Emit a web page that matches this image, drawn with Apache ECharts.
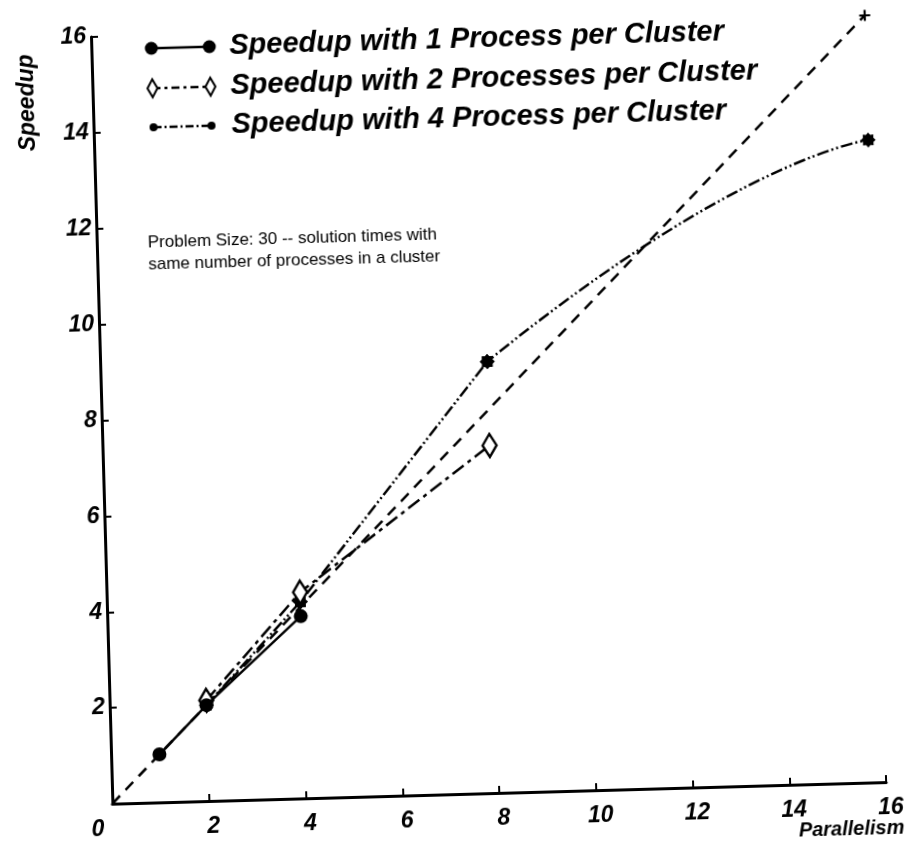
<!DOCTYPE html>
<html>
<head>
<meta charset="utf-8">
<script src="https://cdn.jsdelivr.net/npm/echarts@6/dist/echarts.min.js"></script>
<style>
  html, body { margin: 0; padding: 0; background: #fff; overflow: hidden; }
  #chart { width: 909px; height: 851px; transform: rotate(-1.6deg); transform-origin: 50% 50%; }
</style>
</head>
<body>
<div id="chart"></div>
<script>
// Speedup vs. parallelism for different numbers of processes per cluster
const seriesNames = [
  'Speedup with 1 Process per Cluster',
  'Speedup with 2 Processes per Cluster',
  'Speedup with 4 Process per Cluster'
];
const oneProcX = [1, 2, 4];
const oneProcY = [1, 2, 3.8];
const twoProcX = [2, 4, 8];
const twoProcY = [2.1, 4.3, 7.25];
const fourProcX = [2, 4, 8, 16];
const fourProcY = [2, 4.1, 9, 13.4];
const idealX = [0, 16];
const idealY = [0, 16];
const xTicks = [0, 2, 4, 6, 8, 10, 12, 14, 16];
const yTicks = [0, 2, 4, 6, 8, 10, 12, 14, 16];
const noteLines = [
  'Problem Size: 30 -- solution times with',
  'same number of processes in a cluster'
];

const FONT = '"Liberation Sans", Arial, Helvetica, sans-serif';
const INK = '#000';
const CLEAR = 'rgba(0,0,0,0)';

const pairs = (xs, ys) => xs.map((x, i) => [x, ys[i]]);

// the 4-process curve is straight up to x = 8 and bends smoothly beyond it
const BEND_AT = 8;
const fourPts = pairs(fourProcX, fourProcY);
const bendIdx = fourProcX.indexOf(BEND_AT);
const fourStraight = fourPts.slice(0, bendIdx + 1);
const fourCurve = fourPts.slice(bendIdx - 1);
// share of the curved copy (along x) that lies before the bend and stays hidden
const hiddenShare = (BEND_AT - fourCurve[0][0]) / (fourCurve[fourCurve.length - 1][0] - fourCurve[0][0]);
const curveStroke = new echarts.graphic.LinearGradient(0, 0, 1, 0, [
  { offset: 0, color: CLEAR },
  { offset: hiddenShare, color: CLEAR },
  { offset: hiddenShare, color: INK },
  { offset: 1, color: INK }
]);

// small spiky blob used for the 4-process markers
function starPath(points, rOut, rIn) {
  let d = '';
  for (let i = 0; i < points * 2; i++) {
    const r = i % 2 === 0 ? rOut : rIn;
    const a = Math.PI * i / points;
    const x = (r * Math.cos(a)).toFixed(2), y = (r * Math.sin(a)).toFixed(2);
    d += (i === 0 ? 'M' : 'L') + x + ' ' + y + ' ';
  }
  return 'path://' + d + 'Z';
}
const STAR = starPath(8, 10, 7.5);
const PLUS = 'path://M4 0 L6 0 L6 4 L10 4 L10 6 L6 6 L6 10 L4 10 L4 6 L0 6 L0 4 L4 4 Z';

const dashIdeal = [11, 8];
const dashTwo = [14, 5, 4, 5];
const dashFour = [12, 3, 2, 3, 2, 3];

const tickLabelStyle = {
  color: INK, fontFamily: FONT, fontSize: 23, fontWeight: 'bold', fontStyle: 'italic'
};

// legend drawn as marker–line–marker samples followed by the series name
function legendRow(y, kind, name) {
  const x1 = 162, x2 = 220;
  const children = [];
  const lineStyle = { stroke: INK, lineWidth: 2.5 };
  if (kind === 2) lineStyle.lineDash = [8, 4, 3, 4];
  if (kind === 3) lineStyle.lineDash = [8, 3, 2, 3];
  children.push({ type: 'line', shape: { x1: x1, y1: y, x2: x2, y2: y }, style: lineStyle });
  [x1, x2].forEach(function (cx) {
    if (kind === 1) {
      children.push({ type: 'circle', shape: { cx: cx, cy: y, r: 6.5 }, style: { fill: INK } });
    } else if (kind === 2) {
      children.push({ type: 'polygon', shape: { points: [[cx, y - 9], [cx + 5, y], [cx, y + 9], [cx - 5, y]] },
        style: { fill: '#fff', stroke: INK, lineWidth: 2 } });
    } else {
      children.push({ type: 'circle', shape: { cx: cx, cy: y, r: 4 }, style: { fill: INK } });
    }
  });
  children.push({ type: 'text', x: 240, y: y, style: {
    text: name, fill: INK, font: 'italic bold 29px ' + FONT, verticalAlign: 'middle', align: 'left'
  } });
  return { type: 'group', children: children };
}

const chart = echarts.init(document.getElementById('chart'), null, { renderer: 'canvas' });

chart.setOption({
  backgroundColor: '#fff',
  animation: false,
  grid: { left: 102, right: 33, top: 27, bottom: 57, containLabel: false },
  xAxis: {
    type: 'value', min: xTicks[0], max: xTicks[xTicks.length - 1], interval: 2,
    axisLine: { lineStyle: { color: INK, width: 3 } },
    axisTick: { inside: true, length: 7, lineStyle: { color: INK, width: 2 } },
    axisLabel: Object.assign({
      margin: 14,
      padding: [0, 0, 0, 8],
      formatter: function (v) { return v === 0 ? '{z|0}' : String(v); },
      rich: { z: Object.assign({ padding: [0, 38, 0, 0] }, tickLabelStyle) }
    }, tickLabelStyle),
    splitLine: { show: false }
  },
  yAxis: {
    type: 'value', min: yTicks[0], max: yTicks[yTicks.length - 1], interval: 2,
    axisLine: { lineStyle: { color: INK, width: 3 } },
    axisTick: { inside: true, length: 7, lineStyle: { color: INK, width: 2 } },
    axisLabel: Object.assign({ margin: 5, showMinLabel: false }, tickLabelStyle),
    splitLine: { show: false }
  },
  graphic: [
    legendRow(40, 1, seriesNames[0]),
    legendRow(80, 2, seriesNames[1]),
    legendRow(119, 3, seriesNames[2]),
    { type: 'text', x: 153, y: 234, style: { text: noteLines[0], fill: INK,
      font: '17px ' + FONT, verticalAlign: 'middle' } },
    { type: 'text', x: 153, y: 256, style: { text: noteLines[1], fill: INK,
      font: '17px ' + FONT, verticalAlign: 'middle' } },
    { type: 'text', x: 37, y: 91, rotation: Math.PI / 2, style: { text: 'Speedup', fill: INK,
      font: 'italic bold 23px ' + FONT, align: 'center', verticalAlign: 'middle' } },
    { type: 'text', x: 893, y: 840, style: { text: 'Parallelism', fill: INK,
      font: 'italic bold 20px ' + FONT, align: 'right', verticalAlign: 'middle' } }
  ],
  series: [
    {
      name: 'Ideal', type: 'line',
      data: pairs(idealX, idealY).map(function (p, i) {
        return i === 0 ? { value: p, symbol: 'none' } : { value: p, symbol: PLUS, symbolSize: 11 };
      }),
      lineStyle: { color: INK, width: 2.5, type: dashIdeal },
      itemStyle: { color: INK }, z: 1
    },
    {
      name: seriesNames[2], type: 'line',
      data: fourStraight,
      symbol: STAR, symbolSize: 15,
      lineStyle: { color: INK, width: 2.5, type: dashFour },
      itemStyle: { color: INK }, z: 2
    },
    {
      name: seriesNames[2], type: 'line', smooth: 0.75,
      data: fourCurve,
      symbol: STAR, symbolSize: 15,
      lineStyle: { color: curveStroke, width: 2.5, type: dashFour },
      itemStyle: { color: INK }, z: 2
    },
    {
      name: seriesNames[1], type: 'line',
      data: pairs(twoProcX, twoProcY),
      symbol: 'diamond', symbolSize: [14, 23],
      lineStyle: { color: INK, width: 2.5, type: dashTwo },
      itemStyle: { color: '#fff', borderColor: INK, borderWidth: 2.5 }, z: 3
    },
    {
      name: seriesNames[0], type: 'line',
      data: pairs(oneProcX, oneProcY),
      symbol: 'circle', symbolSize: 14,
      lineStyle: { color: INK, width: 2.5 },
      itemStyle: { color: INK }, z: 4
    }
  ]
});
</script>
</body>
</html>
